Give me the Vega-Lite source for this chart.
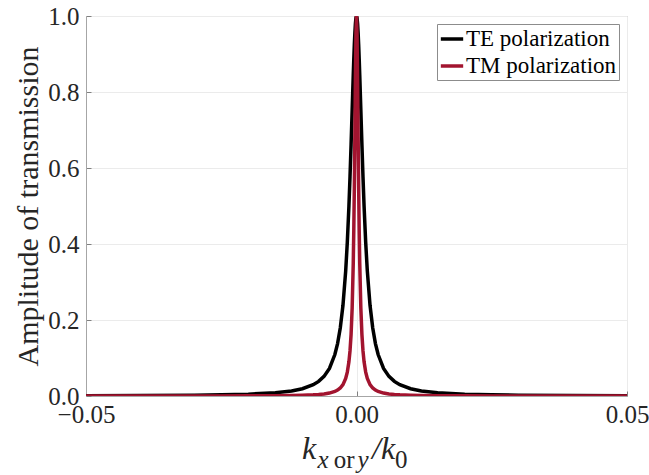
{
  "$schema": "https://vega.github.io/schema/vega-lite/v6.json",
  "width": 541,
  "height": 380,
  "autosize": {"type": "none"},
  "padding": {"left": 86, "top": 16, "right": 22, "bottom": 79},
  "background": "white",
  "config": {
    "font": "Liberation Serif",
    "view": {"stroke": "#a6a6a6", "strokeWidth": 1},
    "axis": {
      "labelFont": "Liberation Serif",
      "labelFontSize": 25,
      "labelColor": "#262626",
      "titleFont": "Liberation Serif",
      "titleFontWeight": "normal",
      "titleColor": "#262626",
      "domainColor": "#a6a6a6",
      "tickColor": "#808080",
      "tickSize": -5,
      "gridColor": "#ebebeb",
      "gridWidth": 1
    },
    "text": {"font": "Liberation Serif"}
  },
  "datasets": {
    "curves": [
      {"k": -0.05, "TE": 0.00078, "TM": 0.000077},
      {"k": -0.04, "TE": 0.00122, "TM": 0.00012},
      {"k": -0.03, "TE": 0.00217, "TM": 0.000215},
      {"k": -0.025, "TE": 0.00313, "TM": 0.00031},
      {"k": -0.02, "TE": 0.00488, "TM": 0.00048},
      {"k": -0.015, "TE": 0.00864, "TM": 0.00086},
      {"k": -0.012, "TE": 0.0134, "TM": 0.00134},
      {"k": -0.01, "TE": 0.0192, "TM": 0.00193},
      {"k": -0.008, "TE": 0.0297, "TM": 0.00302},
      {"k": -0.007, "TE": 0.0385, "TM": 0.00394},
      {"k": -0.006, "TE": 0.0516, "TM": 0.00535},
      {"k": -0.005, "TE": 0.0727, "TM": 0.00769},
      {"k": -0.004, "TE": 0.1091, "TM": 0.012},
      {"k": -0.0035, "TE": 0.1379, "TM": 0.0156},
      {"k": -0.003, "TE": 0.1788, "TM": 0.0211},
      {"k": -0.0025, "TE": 0.2387, "TM": 0.03},
      {"k": -0.002, "TE": 0.3289, "TM": 0.0462},
      {"k": -0.0017, "TE": 0.4041, "TM": 0.0628},
      {"k": -0.0014, "TE": 0.5, "TM": 0.0899},
      {"k": -0.0012, "TE": 0.5765, "TM": 0.1185},
      {"k": -0.001, "TE": 0.6622, "TM": 0.1622},
      {"k": -0.0008, "TE": 0.7538, "TM": 0.2322},
      {"k": -0.0006, "TE": 0.8448, "TM": 0.3497},
      {"k": -0.0005, "TE": 0.8869, "TM": 0.4364},
      {"k": -0.0004, "TE": 0.9245, "TM": 0.5475},
      {"k": -0.0003, "TE": 0.956, "TM": 0.6826},
      {"k": -0.0002, "TE": 0.98, "TM": 0.8288},
      {"k": -0.0001, "TE": 0.9949, "TM": 0.9509},
      {"k": 0, "TE": 1.0, "TM": 1.0},
      {"k": 0.0001, "TE": 0.9949, "TM": 0.9509},
      {"k": 0.0002, "TE": 0.98, "TM": 0.8288},
      {"k": 0.0003, "TE": 0.956, "TM": 0.6826},
      {"k": 0.0004, "TE": 0.9245, "TM": 0.5475},
      {"k": 0.0005, "TE": 0.8869, "TM": 0.4364},
      {"k": 0.0006, "TE": 0.8448, "TM": 0.3497},
      {"k": 0.0008, "TE": 0.7538, "TM": 0.2322},
      {"k": 0.001, "TE": 0.6622, "TM": 0.1622},
      {"k": 0.0012, "TE": 0.5765, "TM": 0.1185},
      {"k": 0.0014, "TE": 0.5, "TM": 0.0899},
      {"k": 0.0017, "TE": 0.4041, "TM": 0.0628},
      {"k": 0.002, "TE": 0.3289, "TM": 0.0462},
      {"k": 0.0025, "TE": 0.2387, "TM": 0.03},
      {"k": 0.003, "TE": 0.1788, "TM": 0.0211},
      {"k": 0.0035, "TE": 0.1379, "TM": 0.0156},
      {"k": 0.004, "TE": 0.1091, "TM": 0.012},
      {"k": 0.005, "TE": 0.0727, "TM": 0.00769},
      {"k": 0.006, "TE": 0.0516, "TM": 0.00535},
      {"k": 0.007, "TE": 0.0385, "TM": 0.00394},
      {"k": 0.008, "TE": 0.0297, "TM": 0.00302},
      {"k": 0.01, "TE": 0.0192, "TM": 0.00193},
      {"k": 0.012, "TE": 0.0134, "TM": 0.00134},
      {"k": 0.015, "TE": 0.00864, "TM": 0.00086},
      {"k": 0.02, "TE": 0.00488, "TM": 0.00048},
      {"k": 0.025, "TE": 0.00313, "TM": 0.00031},
      {"k": 0.03, "TE": 0.00217, "TM": 0.000215},
      {"k": 0.04, "TE": 0.00122, "TM": 0.00012},
      {"k": 0.05, "TE": 0.00078, "TM": 0.000077}
    ]
  },
  "layer": [
    {
      "data": {"name": "curves"},
      "mark": {"type": "line", "strokeWidth": 3.5, "clip": true},
      "encoding": {
        "x": {
          "field": "k", "type": "quantitative",
          "scale": {"domain": [-0.05, 0.05], "nice": false, "zero": false},
          "axis": {"values": [-0.05, 0, 0.05], "format": ".2f", "title": null, "grid": true, "labelPadding": 11, "labelFlush": false, "labelFont": "Liberation Serif"}
        },
        "y": {
          "field": "TE", "type": "quantitative",
          "scale": {"domain": [0, 1], "nice": false},
          "axis": {"values": [0, 0.2, 0.4, 0.6, 0.8, 1], "format": ".1f", "title": "Amplitude of transmission", "titleFontSize": 30, "titlePadding": 4, "grid": true, "labelPadding": 12, "labelFont": "Liberation Serif"}
        },
        "color": {
          "datum": "TE polarization",
          "type": "nominal",
          "scale": {"domain": ["TE polarization", "TM polarization"], "range": ["#000000", "#A2142F"]},
          "legend": {
            "title": null, "orient": "top-right", "offset": 8,
            "symbolType": "stroke", "symbolStrokeWidth": 3.5, "symbolSize": 500,
            "labelFont": "Liberation Serif", "labelFontSize": 23, "labelColor": "#000000",
            "labelOffset": 1, "labelLimit": 300,
            "strokeColor": "#8c8c8c", "fillColor": "white", "padding": 2, "rowPadding": 2
          }
        }
      }
    },
    {
      "data": {"name": "curves"},
      "mark": {"type": "line", "strokeWidth": 3.5, "clip": true},
      "encoding": {
        "x": {"field": "k", "type": "quantitative"},
        "y": {"field": "TM", "type": "quantitative"},
        "color": {"datum": "TM polarization", "type": "nominal"}
      }
    },
    {
      "data": {"values": [{}]},
      "mark": {"type": "text", "text": "k", "font": "Liberation Serif", "fontSize": 32, "fontStyle": "italic", "align": "left", "baseline": "alphabetic", "color": "#262626"},
      "encoding": {
        "x": {"datum": -0.01007, "type": "quantitative"},
        "y": {"datum": -0.166, "type": "quantitative"}
      }
    },
    {
      "data": {"values": [{}]},
      "mark": {"type": "text", "text": "x", "font": "Liberation Serif", "fontSize": 25, "fontStyle": "italic", "align": "left", "baseline": "alphabetic", "color": "#262626"},
      "encoding": {
        "x": {"datum": -0.0072, "type": "quantitative"},
        "y": {"datum": -0.19, "type": "quantitative"}
      }
    },
    {
      "data": {"values": [{}]},
      "mark": {"type": "text", "text": "or", "font": "Liberation Serif", "fontSize": 25, "align": "left", "baseline": "alphabetic", "color": "#262626"},
      "encoding": {
        "x": {"datum": -0.0042, "type": "quantitative"},
        "y": {"datum": -0.19, "type": "quantitative"}
      }
    },
    {
      "data": {"values": [{}]},
      "mark": {"type": "text", "text": "y", "font": "Liberation Serif", "fontSize": 25, "fontStyle": "italic", "align": "left", "baseline": "alphabetic", "color": "#262626"},
      "encoding": {
        "x": {"datum": 0.0002, "type": "quantitative"},
        "y": {"datum": -0.19, "type": "quantitative"}
      }
    },
    {
      "data": {"values": [{}]},
      "mark": {"type": "text", "text": "/k", "font": "Liberation Serif", "fontSize": 32, "fontStyle": "italic", "align": "left", "baseline": "alphabetic", "color": "#262626"},
      "encoding": {
        "x": {"datum": 0.00287, "type": "quantitative"},
        "y": {"datum": -0.166, "type": "quantitative"}
      }
    },
    {
      "data": {"values": [{}]},
      "mark": {"type": "text", "text": "0", "font": "Liberation Serif", "fontSize": 25, "align": "left", "baseline": "alphabetic", "color": "#262626"},
      "encoding": {
        "x": {"datum": 0.00712, "type": "quantitative"},
        "y": {"datum": -0.19, "type": "quantitative"}
      }
    }
  ]
}
